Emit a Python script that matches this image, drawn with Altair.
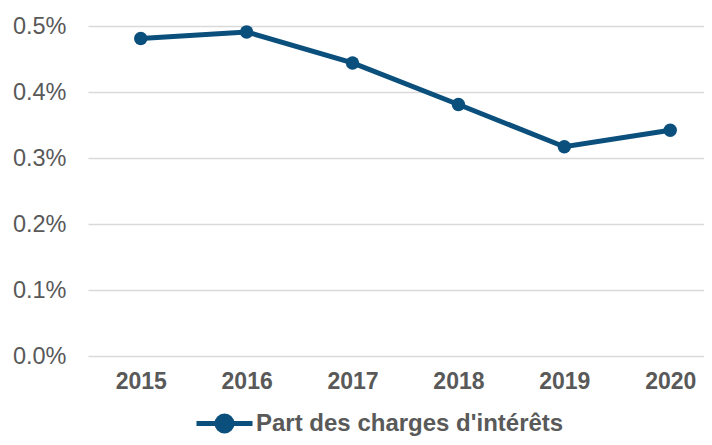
import altair as alt
import pandas as pd

years = [2015, 2016, 2017, 2018, 2019, 2020]
values = [0.00481, 0.00491, 0.00444, 0.00381, 0.00317, 0.00342]
series_name = "Part des charges d'intérêts"
y_ticks = [0, 0.001, 0.002, 0.003, 0.004, 0.005]

df = pd.DataFrame({"year": years, "value": values, "series": [series_name] * len(years)})

color = "#0B4F7C"
font = "Liberation Sans"

symbol_path = ("M-1,0L1,0M-0.27,0A0.27,0.27,0,1,1,0.27,0"
               "A0.27,0.27,0,1,1,-0.27,0Z")

x_enc = alt.X("year:Q", title=None,
              scale=alt.Scale(domain=[2014.502, 2020.319], nice=False, zero=False),
              axis=alt.Axis(values=years, format="d", labelAngle=0, labelFontSize=23,
                            labelFontWeight="bold", labelColor="#595959", labelFont=font,
                            ticks=False, domain=False, labelPadding=14, grid=False,
                            labelFlush=False, labelOverlap=False))
y_enc = alt.Y("value:Q", title=None,
              scale=alt.Scale(domain=[0, 0.005], nice=False),
              axis=alt.Axis(values=y_ticks, format=".1%", labelFontSize=23.5,
                            labelColor="#595959", labelFont=font, ticks=False,
                            domain=False, labelPadding=22, gridColor="#D9D9D9",
                            gridWidth=1.5))
c_enc = alt.Color("series:N", title=None,
                  scale=alt.Scale(domain=[series_name], range=[color]),
                  legend=alt.Legend(orient="none", legendX=106, legendY=367,
                                    symbolType=symbol_path, symbolSize=3136,
                                    symbolStrokeWidth=5, symbolFillColor=color,
                                    symbolStrokeColor=color, labelFontSize=24,
                                    labelFontWeight="bold", labelColor="#595959",
                                    labelFont=font, labelOffset=1, padding=0,
                                    labelLimit=500))

line = alt.Chart(df).mark_line(strokeWidth=5).encode(x=x_enc, y=y_enc, color=c_enc)
pts = alt.Chart(df).mark_point(filled=True, size=180, opacity=1).encode(
    x=x_enc, y=y_enc, color=c_enc)

chart = (line + pts).properties(
    width=616, height=330,
    background="white",
    autosize=alt.AutoSizeParams(type="none"),
    padding={"left": 80, "top": 18, "right": 0, "bottom": 81},
).configure_view(stroke=None)

chart.save("out.html", embed_options={"renderer": "svg", "actions": False})
